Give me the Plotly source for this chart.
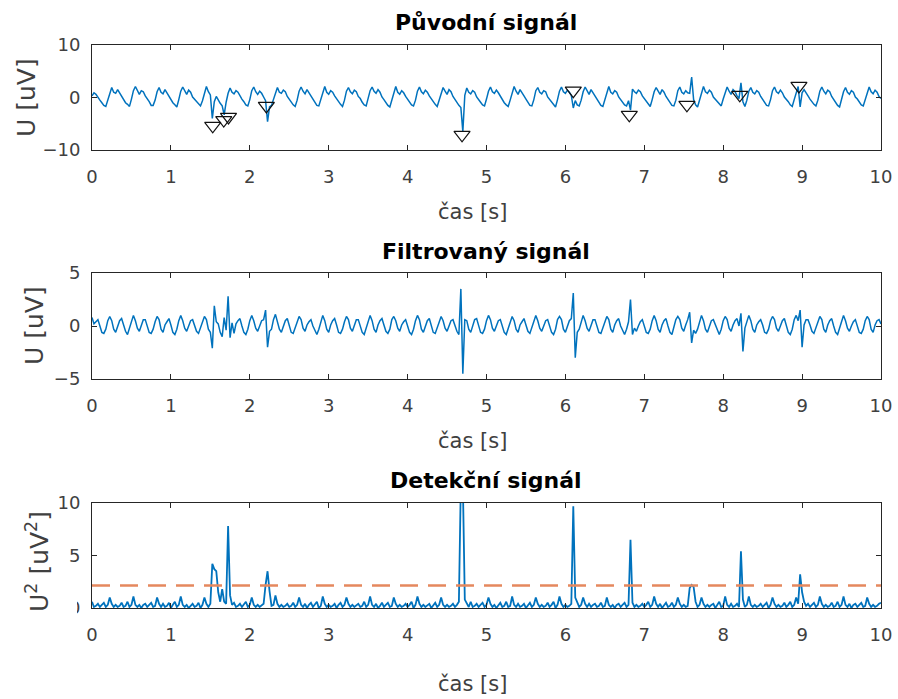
import numpy as np
import plotly.graph_objects as go

# time axis: 0 .. 10 s, step 0.025 s (401 samples)
t = np.round(np.arange(401) * 0.025, 3)

puvodni = [
    0.3, 0.9, 0.6, -0.1, -0.5, -1.0, -1.5, -1.7, -0.5, 1.0, 1.9, 1.0,
    0.8, 1.5, 0.9, 0.1, -0.4, -1.0, -1.3, -1.7, -0.3, 1.3, 2.1, 1.2,
    0.6, 1.3, 1.1, 0.3, -0.2, -0.8, -1.5, -1.5, -0.5, 1.1, 1.9, 1.0,
    0.7, 1.5, 0.9, 0.2, -0.4, -1.0, -1.4, -1.8, -0.4, 1.2, 2.0, 1.2,
    0.6, 1.4, 1.0, 0.1, -0.3, -0.9, -1.3, -1.6, -0.6, 1.0, 2.1, 1.1,
    0.5, -4.0, -0.8, 0.2, -0.5, -1.1, -1.6, -3.3, -0.9, 0.8, 1.8, 1.0,
    0.7, 1.3, 1.0, 0.3, -0.3, -0.8, -1.4, -1.6, -0.4, 1.3, 2.0, 1.1,
    0.6, 1.2, 0.8, 0.1, -0.6, -4.6, -1.8, -1.5, -0.3, 1.1, 1.9, 1.0,
    0.8, 1.4, 1.1, 0.2, -0.3, -1.0, -1.4, -1.7, -0.5, 1.2, 2.0, 1.2,
    0.7, 1.5, 0.9, 0.1, -0.4, -0.9, -1.5, -1.6, -0.4, 1.1, 2.1, 1.0,
    0.6, 1.3, 1.0, 0.3, -0.3, -0.8, -1.3, -1.7, -0.5, 1.2, 1.9, 1.1,
    0.7, 1.4, 1.1, 0.2, -0.2, -0.9, -1.4, -1.6, -0.3, 1.3, 2.0, 1.2,
    0.8, 1.5, 1.0, 0.1, -0.4, -1.0, -1.5, -1.8, -0.4, 1.1, 2.1, 1.0,
    0.6, 1.3, 0.9, 0.2, -0.3, -0.8, -1.4, -1.6, -0.5, 1.2, 2.0, 1.1,
    0.7, 1.4, 1.0, 0.3, -0.3, -0.9, -1.3, -1.7, -0.4, 1.0, 1.9, 1.2,
    0.6, 1.5, 1.1, 0.2, -0.4, -1.0, -1.5, -1.9, -6.5, 0.4, 1.8, 1.0,
    0.7, 1.3, 1.0, 0.1, -0.3, -0.9, -1.4, -1.6, -0.3, 1.2, 2.0, 1.1,
    0.8, 1.4, 0.9, 0.2, -0.2, -1.0, -1.4, -1.7, -0.5, 1.1, 2.1, 1.2,
    0.6, 1.5, 1.0, 0.3, -0.3, -0.8, -1.5, -1.6, -0.4, 1.3, 1.9, 1.0,
    0.7, 1.3, 1.1, 0.1, -0.4, -0.9, -1.3, -1.8, -0.4, 1.2, 2.0, 1.1,
    0.8, 1.4, 1.0, 0.4, -2.0, -0.6, -1.4, -1.6, -0.5, 1.1, 2.0, 1.2,
    0.6, 1.5, 0.9, 0.2, -0.3, -1.0, -1.5, -1.7, -0.3, 1.2, 2.1, 1.0,
    0.7, 1.3, 1.0, 0.1, -0.4, -0.9, -1.4, -1.6, -0.6, -2.4, 1.6, 1.1,
    0.8, 1.4, 1.1, 0.3, -0.2, -0.8, -1.3, -1.7, -0.4, 1.1, 1.9, 1.2,
    0.6, 1.5, 1.0, 0.2, -0.3, -1.0, -1.5, -1.6, -0.5, 1.3, 2.0, 1.0,
    0.7, 1.3, 0.9, 0.8, 3.9, -0.4, -1.4, -1.8, -0.4, 1.2, 2.1, 1.1,
    0.8, 1.4, 1.0, 0.1, -0.3, -0.9, -1.3, -1.6, -0.3, 1.1, 2.0, 1.2,
    0.6, 1.5, 1.1, 0.3, -0.2, 2.8, -0.8, -1.7, -0.5, 1.2, 1.9, 1.0,
    0.7, 1.3, 1.0, 0.2, -0.4, -1.0, -1.5, -1.6, -0.4, 1.3, 2.0, 1.1,
    0.8, 1.4, 0.9, 0.1, -0.3, -0.8, -1.4, -1.7, -0.4, 1.1, 2.1, -1.8,
    0.9, 1.5, 1.0, 0.3, -0.3, -0.9, -1.3, -1.6, -0.5, 1.2, 2.0, 1.2,
    0.7, 1.4, 1.1, 0.2, -0.4, -1.0, -1.5, -1.8, -0.3, 1.1, 1.9, 1.0,
    0.6, 1.3, 1.0, 0.1, -0.3, -0.9, -1.4, -1.6, -0.4, 1.2, 2.0, 1.1,
    0.7, 1.4, 1.0, 0.2, -0.2,
]

filtrovany = [
    0.8, 0.2, 0.4, 0.6, 0.0, -0.6, -0.7, -0.3, 0.5, 0.9, 0.5, -0.3,
    -0.6, 0.0, 0.5, 0.7, 0.1, -0.5, -0.8, -0.2, 0.6, 1.0, 0.5, -0.2,
    -0.5, 0.1, 0.6, 0.6, 0.0, -0.6, -0.7, -0.3, 0.4, 0.9, 0.6, -0.3,
    -0.6, 0.1, 0.4, 0.7, 0.1, -0.6, -0.8, -0.3, 0.5, 1.0, 0.5, -0.2,
    -0.5, 0.0, 0.5, 0.6, 0.0, -0.5, -0.7, -0.2, 0.5, 0.9, 0.6, -0.3,
    -0.6, -2.1, 1.9, 0.4, 0.2, -0.6, -1.0, 0.8, -0.4, 2.8, -1.1, 0.3,
    -0.7, 0.2, 0.5, 0.7, 0.0, -0.6, -0.8, -0.3, 0.5, 1.0, 0.5, -0.2,
    -0.5, 0.1, 0.5, 0.6, 1.5, -2.0, -0.5, -0.3, 0.6, 1.1, 0.5, -0.3,
    -0.6, 0.0, 0.5, 0.7, 0.1, -0.6, -0.7, -0.2, 0.5, 0.9, 0.6, -0.2,
    -0.5, 0.1, 0.4, 0.6, 0.0, -0.5, -0.8, -0.3, 0.5, 1.0, 0.5, -0.3,
    -0.6, 0.1, 0.5, 0.7, 0.1, -0.6, -0.7, -0.3, 0.4, 0.9, 0.6, -0.2,
    -0.5, 0.0, 0.6, 0.6, 0.0, -0.6, -0.8, -0.2, 0.5, 1.0, 0.5, -0.3,
    -0.6, 0.1, 0.5, 0.7, 0.1, -0.5, -0.7, -0.3, 0.6, 0.9, 0.5, -0.2,
    -0.5, 0.1, 0.4, 0.6, 0.0, -0.6, -0.8, -0.3, 0.5, 1.0, 0.6, -0.3,
    -0.6, 0.0, 0.5, 0.7, 0.1, -0.6, -0.7, -0.2, 0.5, 0.9, 0.5, -0.2,
    -0.5, 0.1, 0.5, 0.6, 0.0, -0.5, -0.8, 3.5, -4.5, 0.6, 0.5, -0.3,
    -0.6, 0.1, 0.6, 0.7, 0.1, -0.6, -0.7, -0.3, 0.5, 1.0, 0.6, -0.2,
    -0.5, 0.0, 0.5, 0.6, 0.0, -0.6, -0.8, -0.3, 0.4, 0.9, 0.5, -0.3,
    -0.6, 0.1, 0.4, 0.7, 0.1, -0.5, -0.7, -0.2, 0.5, 1.0, 0.5, -0.2,
    -0.5, 0.1, 0.5, 0.6, 0.0, -0.6, -0.8, -0.3, 0.6, 0.9, 0.6, -0.3,
    -0.6, 0.0, 0.5, 0.7, 3.1, -3.0, -0.6, -0.3, 0.5, 1.0, 0.5, -0.2,
    -0.5, 0.1, 0.6, 0.6, 0.1, -0.6, -0.7, -0.2, 0.5, 0.9, 0.6, -0.3,
    -0.6, 0.1, 0.5, 0.7, 0.0, -0.5, -0.8, -0.3, 0.4, 2.5, -0.8, -0.2,
    -0.5, 0.0, 0.4, 0.6, 0.1, -0.6, -0.7, -0.3, 0.5, 1.0, 0.5, -0.3,
    -0.6, 0.1, 0.5, 0.7, 0.0, -0.6, -0.8, -0.2, 0.6, 0.9, 0.6, -0.2,
    -0.5, 0.1, 0.6, 1.3, -1.6, -0.4, -0.7, -0.3, 0.5, 1.0, 0.5, -0.3,
    -0.6, 0.0, 0.5, 0.6, 0.1, -0.5, -0.8, -0.3, 0.5, 0.9, 0.6, -0.2,
    -0.5, 0.1, 0.5, 0.7, 0.0, 1.2, -2.4, -0.2, 0.4, 1.0, 0.5, -0.3,
    -0.6, 0.1, 0.4, 0.6, 0.1, -0.6, -0.7, -0.3, 0.5, 0.9, 0.6, -0.2,
    -0.5, 0.0, 0.5, 0.7, 0.0, -0.6, -0.8, -0.3, 0.6, 1.0, 0.5, 1.5,
    -2.0, 0.1, 0.6, 0.6, 0.1, -0.5, -0.7, -0.2, 0.5, 0.9, 0.6, -0.3,
    -0.6, 0.1, 0.5, 0.7, 0.0, -0.6, -0.8, -0.3, 0.4, 1.0, 0.5, -0.2,
    -0.5, 0.0, 0.4, 0.6, 0.1, -0.6, -0.7, -0.3, 0.5, 0.9, 0.6, -0.3,
    -0.6, 0.1, 0.5, 0.6, 0.2,
]

detekcni = [
    0.6, 0.1, 0.2, 0.4, 0.1, 0.3, 0.5, 0.1, 0.3, 1.0, 0.4, 0.1,
    0.3, 0.1, 0.2, 0.5, 0.1, 0.2, 0.6, 0.1, 0.3, 1.1, 0.3, 0.1,
    0.3, 0.0, 0.3, 0.4, 0.1, 0.3, 0.5, 0.1, 0.2, 1.0, 0.4, 0.1,
    0.4, 0.1, 0.2, 0.5, 0.0, 0.3, 0.6, 0.1, 0.3, 1.1, 0.3, 0.1,
    0.3, 0.0, 0.2, 0.4, 0.1, 0.2, 0.5, 0.0, 0.3, 1.0, 0.4, 0.1,
    0.4, 4.2, 3.7, 3.5, 1.5, 0.6, 1.8, 0.6, 0.4, 7.8, 1.2, 0.3,
    0.5, 0.1, 0.2, 0.4, 0.1, 0.3, 0.6, 0.1, 0.3, 1.0, 0.3, 0.1,
    0.3, 0.1, 0.3, 0.4, 2.2, 3.5, 1.6, 0.2, 0.3, 1.2, 0.4, 0.1,
    0.3, 0.1, 0.2, 0.4, 0.1, 0.2, 0.5, 0.1, 0.3, 1.0, 0.3, 0.1,
    0.4, 0.0, 0.3, 0.5, 0.1, 0.3, 0.6, 0.0, 0.2, 1.1, 0.4, 0.1,
    0.3, 0.1, 0.2, 0.4, 0.0, 0.3, 0.5, 0.1, 0.3, 1.0, 0.4, 0.1,
    0.3, 0.1, 0.3, 0.4, 0.1, 0.2, 0.6, 0.1, 0.3, 1.1, 0.3, 0.1,
    0.4, 0.0, 0.2, 0.5, 0.1, 0.3, 0.5, 0.1, 0.2, 1.0, 0.4, 0.1,
    0.3, 0.1, 0.2, 0.4, 0.1, 0.3, 0.6, 0.0, 0.3, 1.1, 0.4, 0.1,
    0.3, 0.1, 0.3, 0.4, 0.0, 0.2, 0.5, 0.1, 0.3, 1.0, 0.3, 0.1,
    0.3, 0.1, 0.2, 0.4, 0.1, 0.3, 0.6, 12.0, 12.0, 0.8, 0.4, 0.1,
    0.6, 0.1, 0.2, 0.4, 0.1, 0.3, 0.5, 0.1, 0.3, 1.0, 0.4, 0.1,
    0.3, 0.0, 0.3, 0.5, 0.1, 0.2, 0.6, 0.1, 0.2, 1.1, 0.3, 0.1,
    0.4, 0.1, 0.2, 0.4, 0.0, 0.3, 0.5, 0.1, 0.3, 1.0, 0.4, 0.1,
    0.3, 0.1, 0.2, 0.5, 0.1, 0.3, 0.6, 0.0, 0.3, 1.1, 0.4, 0.1,
    0.3, 0.1, 0.2, 0.4, 9.7, 1.0, 0.5, 0.1, 0.3, 1.0, 0.4, 0.1,
    0.4, 0.1, 0.3, 0.4, 0.1, 0.2, 0.5, 0.1, 0.2, 1.0, 0.3, 0.1,
    0.3, 0.0, 0.3, 0.4, 0.1, 0.3, 0.5, 0.1, 0.3, 6.5, 0.5, 0.1,
    0.3, 0.1, 0.2, 0.4, 0.1, 0.3, 0.6, 0.1, 0.3, 1.1, 0.4, 0.1,
    0.4, 0.0, 0.2, 0.5, 0.1, 0.2, 0.5, 0.1, 0.3, 1.0, 0.4, 0.1,
    0.3, 0.1, 0.2, 1.9, 2.2, 2.0, 0.6, 0.1, 0.3, 1.0, 0.4, 0.1,
    0.3, 0.1, 0.3, 0.4, 0.0, 0.3, 0.6, 0.1, 0.2, 1.1, 0.3, 0.1,
    0.4, 0.1, 0.2, 0.4, 0.1, 5.4, 0.8, 0.1, 0.3, 1.1, 0.3, 0.1,
    0.3, 0.1, 0.2, 0.4, 0.1, 0.3, 0.5, 0.0, 0.3, 1.0, 0.4, 0.1,
    0.3, 0.1, 0.2, 0.5, 0.1, 0.3, 0.6, 0.1, 0.3, 1.0, 0.4, 3.2,
    1.5, 0.6, 0.2, 0.4, 0.1, 0.3, 0.5, 0.1, 0.3, 1.1, 0.4, 0.1,
    0.3, 0.1, 0.2, 0.5, 0.1, 0.2, 0.6, 0.1, 0.3, 1.1, 0.3, 0.1,
    0.4, 0.0, 0.3, 0.4, 0.1, 0.3, 0.5, 0.1, 0.2, 1.0, 0.4, 0.1,
    0.3, 0.1, 0.2, 0.4, 0.5,
]

prah = 2.15  # detection threshold

det_cas = [1.53, 1.67, 1.73, 2.21, 4.69, 6.10, 6.81, 7.54, 8.21, 8.96]
det_hodnota = [-5.4, -4.3, -3.7, -1.6, -7.1, 1.3, -3.3, -1.4, 0.5, 2.2]

x_ticks = [0, 1, 2, 3, 4, 5, 6, 7, 8, 9, 10]

W, H = 898, 699
def px(x):
    return x / W
def py(y):
    return 1 - y / H

BLUE = "#0072BD"
AX = "#262626"
TXT = "#404040"
FONT = "DejaVu Sans"

fig = go.Figure()
fig.add_trace(go.Scatter(x=t, y=puvodni, mode="lines", line=dict(color=BLUE, width=1.5),
                         xaxis="x", yaxis="y", showlegend=False))
fig.add_trace(go.Scatter(x=det_cas, y=det_hodnota, mode="markers",
                         marker=dict(symbol="triangle-down-open", size=14, color="#111111",
                                     line=dict(width=1.2, color="#111111")),
                         xaxis="x", yaxis="y", showlegend=False))
fig.add_trace(go.Scatter(x=t, y=filtrovany, mode="lines", line=dict(color=BLUE, width=1.5),
                         xaxis="x2", yaxis="y2", showlegend=False))
fig.add_trace(go.Scatter(x=t, y=detekcni, mode="lines", line=dict(color=BLUE, width=1.8),
                         xaxis="x3", yaxis="y3", showlegend=False))
fig.add_trace(go.Scatter(x=[x_ticks[0], x_ticks[-1]], y=[prah, prah], mode="lines",
                         line=dict(color="#E5885E", width=2.6, dash="18px,10px"),
                         xaxis="x3", yaxis="y3", showlegend=False))

xdom = [px(92), px(881)]
ydoms = [[py(150), py(45)], [py(379), py(273)], [py(608), py(503)]]
yranges = [[-10, 10], [-5, 5], [0, 10]]
yticks = [[-10, 0, 10], [-5, 0, 5], [0, 5, 10]]

common = dict(showline=True, linecolor=AX, linewidth=1, mirror="ticks", ticks="inside",
              ticklen=5, tickcolor=AX, showgrid=False, zeroline=False, automargin=False,
              tickfont=dict(family=FONT, size=18, color=TXT))
layout = dict(width=W, height=H, autosize=False,
              margin=dict(l=0, r=0, t=0, b=0, pad=0, autoexpand=False),
              paper_bgcolor="white", plot_bgcolor="white", showlegend=False)
for i in range(3):
    sx = "" if i == 0 else str(i + 1)
    layout["xaxis" + sx] = dict(common, domain=xdom, range=[0, 10], tickvals=x_ticks,
                                anchor="y" + sx, ticklabelstandoff=10)
    layout["yaxis" + sx] = dict(common, domain=ydoms[i], range=yranges[i], tickvals=yticks[i],
                                anchor="x" + sx, ticklabelstandoff=7)
fig.update_layout(**layout)

titles = [("Původní signál", 22), ("Filtrovaný signál", 251), ("Detekční signál", 481)]
for txt, y in titles:
    fig.add_annotation(text="<b>%s</b>" % txt, x=px(486), y=py(y), xref="paper", yref="paper",
                       showarrow=False, xanchor="center", yanchor="middle",
                       font=dict(family=FONT, size=22, color="#000000"))
for y in [212, 441, 684]:
    fig.add_annotation(text="čas [s]", x=px(472), y=py(y), xref="paper", yref="paper",
                       showarrow=False, xanchor="center", yanchor="middle",
                       font=dict(family=FONT, size=21, color=TXT))
ylabels = [("U [uV]", 26, 98), ("U [uV]", 35, 326), ("U<sup>2</sup> [uV<sup>2</sup>]", 37, 562)]
for txt, x, y in ylabels:
    fig.add_annotation(text=txt, x=px(x), y=py(y), xref="paper", yref="paper",
                       showarrow=False, xanchor="center", yanchor="middle", textangle=-90,
                       font=dict(family=FONT, size=25, color=TXT))

# the reference shows the "0" tick of the bottom axes partly hidden
fig.add_shape(type="rect", xref="paper", yref="paper", x0=px(58), x1=px(77),
              y0=py(620), y1=py(596), fillcolor="white", line=dict(width=0), layer="above")

fig.write_html("out.html")
